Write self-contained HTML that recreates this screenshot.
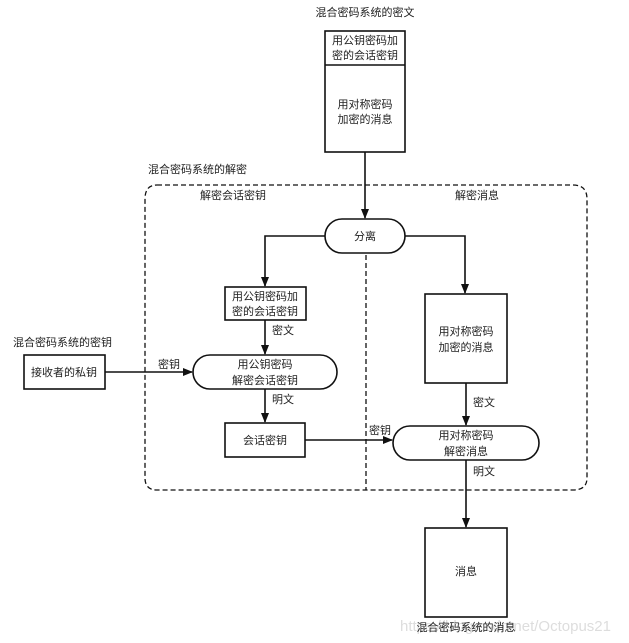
<!DOCTYPE html>
<html><head><meta charset="utf-8"><style>
html,body{margin:0;padding:0;background:#fff;}
svg{display:block;}
text{font-family:"Liberation Sans","Noto Sans CJK SC",sans-serif;font-size:11px;fill:#222;}
</style></head><body>
<svg width="629" height="643" viewBox="0 0 629 643" xmlns="http://www.w3.org/2000/svg">
<defs><marker id="a" markerWidth="10" markerHeight="10" refX="9" refY="5" orient="auto" markerUnits="userSpaceOnUse"><path d="M0,1 L10,5 L0,9 z" fill="#111"/></marker></defs>
<g stroke="#111" stroke-width="1.6" fill="none">
<rect x="325" y="31" width="80" height="121"/>
<line x1="325" y1="65" x2="405" y2="65"/>
<path d="M157,185 H573 Q587,185 587,199 V478 Q587,490 573,490 H157 Q145,490 145,478 V199 Q145,185 157,185 Z" stroke-dasharray="5,3" stroke-width="1.3"/>
<line x1="366" y1="255" x2="366" y2="490" stroke-dasharray="5,3" stroke-width="1.3"/>
<line x1="365" y1="152" x2="365" y2="218" marker-end="url(#a)"/>
<rect x="325" y="219" width="80" height="34" rx="17"/>
<polyline points="325,236 265,236 265,286" marker-end="url(#a)"/>
<polyline points="405,236 465,236 465,293" marker-end="url(#a)"/>
<rect x="225" y="287" width="81" height="33"/>
<line x1="265" y1="320" x2="265" y2="354" marker-end="url(#a)"/>
<rect x="24" y="355" width="81" height="34"/>
<line x1="105" y1="372" x2="192" y2="372" marker-end="url(#a)"/>
<rect x="193" y="355" width="144" height="34" rx="17"/>
<line x1="265" y1="389" x2="265" y2="422" marker-end="url(#a)"/>
<rect x="225" y="423" width="80" height="34"/>
<line x1="305" y1="440" x2="392" y2="440" marker-end="url(#a)"/>
<rect x="425" y="294" width="82" height="89"/>
<line x1="466" y1="383" x2="466" y2="425" marker-end="url(#a)"/>
<rect x="393" y="426" width="146" height="34" rx="17"/>
<line x1="466" y1="460" x2="466" y2="527" marker-end="url(#a)"/>
<rect x="425" y="528" width="82" height="89"/>
</g>
<g text-anchor="middle">
<text x="365" y="16">混合密码系统的密文</text>
<text x="365" y="44">用公钥密码加</text>
<text x="365" y="59">密的会话密钥</text>
<text x="365" y="108">用对称密码</text>
<text x="365" y="123">加密的消息</text>
<text x="365" y="240">分离</text>
<text x="265" y="300">用公钥密码加</text>
<text x="265" y="315">密的会话密钥</text>
<text x="265" y="368">用公钥密码</text>
<text x="265" y="384">解密会话密钥</text>
<text x="64" y="376">接收者的私钥</text>
<text x="265" y="444">会话密钥</text>
<text x="466" y="335">用对称密码</text>
<text x="466" y="351">加密的消息</text>
<text x="466" y="439">用对称密码</text>
<text x="466" y="455">解密消息</text>
<text x="466" y="575">消息</text>
</g>
<text x="148" y="173">混合密码系统的解密</text>
<text x="200" y="199">解密会话密钥</text>
<text x="455" y="199">解密消息</text>
<text x="13" y="346">混合密码系统的密钥</text>
<text x="158" y="368">密钥</text>
<text x="272" y="334">密文</text>
<text x="272" y="403">明文</text>
<text x="369" y="434">密钥</text>
<text x="473" y="406">密文</text>
<text x="473" y="475">明文</text>
<text x="400" y="631" style="font-size:15px;fill:#ddd">https://blog.csdn.net/Octopus21</text>
<text x="466" y="631" text-anchor="middle">混合密码系统的消息</text>
</svg>
</body></html>
